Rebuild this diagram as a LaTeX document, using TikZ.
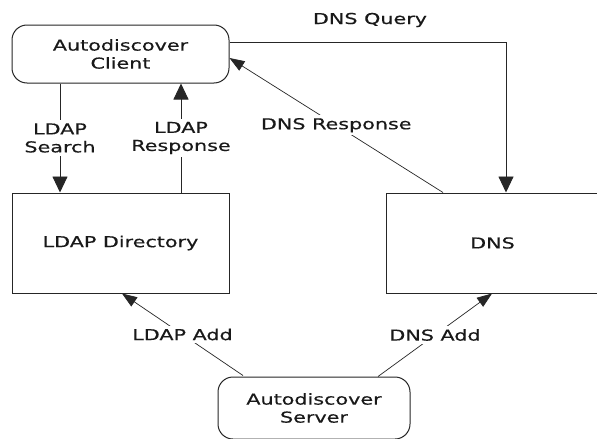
\documentclass[tikz,border=0pt]{standalone}
\usepackage{fontspec}
\setmainfont{DejaVu Sans}[FakeStretch=1.38, FakeBold=0.4]
\usetikzlibrary{arrows.meta}
\tikzset{
  box/.style={draw=black!85, line width=1pt, fill=white, minimum width=217pt, minimum height=100pt, inner sep=0pt},
  rbox/.style={box, rounded corners=15pt, minimum height=58pt, align=center},
  arr/.style={draw=black!85, line width=0.9pt, -{Triangle[width=15pt,length=16pt]}},
  darr/.style={draw=black!85, line width=0.7pt, -{Triangle[width=11pt,length=15pt]}},
  lbl/.style={fill=white, inner sep=3pt, align=center, text=black!90},
}
\begin{document}
\begin{tikzpicture}[x=1pt,y=-1pt, font=\fontsize{15}{18}\selectfont, text=black!90]
\useasboundingbox[fill=white] (0,0) rectangle (597,439);
\node[rbox] (client) at (120.5,54) {Autodiscover\\Client};
\node[box] (dir) at (120.5,243) {LDAP Directory};
\node[box, minimum width=213pt] (dns) at (492.5,243) {DNS};
\node[rbox, minimum width=192pt, minimum height=62pt] (server) at (314,408) {Autodiscover\\Server};

\coordinate (sx) at (60,0);
\coordinate (rx) at (181,0);
\coordinate (qy) at (0,42);
\coordinate (qx) at (506,0);
\coordinate (dr1) at (443,0);
\coordinate (dr2) at (0,58);
\coordinate (la1) at (243,0);
\coordinate (la2) at (122,0);
\coordinate (da1) at (378,0);
\coordinate (da2) at (492,0);

\draw[arr] (client.south -| sx) -- node[lbl]{LDAP\\Search} (dir.north -| sx);
\draw[arr] (dir.north -| rx) -- node[lbl]{LDAP\\Response} (client.south -| rx);
\draw[arr] (client.east |- qy) -- (qx |- qy) -- (dns.north -| qx);
\node[text=black!90] (q) at (370,20) {DNS Query};
\draw[darr] (dns.north -| dr1) -- node[lbl, pos=0.5]{DNS Response} (client.east |- dr2);
\draw[darr] ([yshift=1pt]server.north -| la1) -- node[lbl]{LDAP Add} (dir.south -| la2);
\draw[darr] (server.north -| da1) -- node[lbl]{DNS Add} (dns.south -| da2);
\end{tikzpicture}
\end{document}
